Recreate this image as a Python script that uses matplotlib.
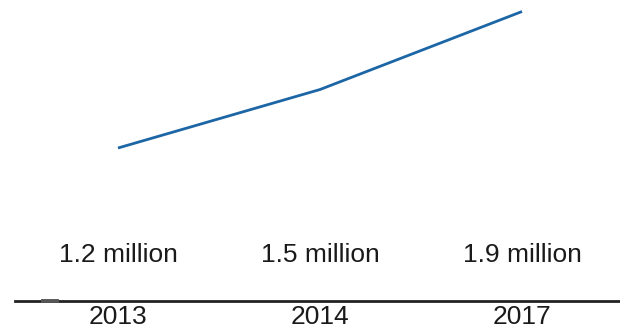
import matplotlib
matplotlib.use("Agg")
import matplotlib.pyplot as plt
import matplotlib.transforms as mtransforms

years = ["2013", "2014", "2017"]
users_million = [1.2, 1.5, 1.9]
labels = ["1.2 million", "1.5 million", "1.9 million"]

plt.rcParams['font.family'] = ['Liberation Sans', 'DejaVu Sans']

fig = plt.figure(figsize=(6.2, 3.29), dpi=100)
ax = fig.add_axes([0, 0, 1, 1])
ax.axis('off')

x = list(range(len(years)))
ax.plot(x, users_million, color='#1d66a6', lw=2.0, solid_capstyle='butt')
ax.set_xlim(-0.584, 2.485)
ax.set_ylim(0.272, 1.959)

trans = mtransforms.blended_transform_factory(ax.transData, ax.transAxes)
for xi, lab, yr in zip(x, labels, years):
    ax.text(xi, 0.226, lab, transform=trans, ha='center', va='center',
            fontsize=19, color='#1a1a1a')
    ax.text(xi, 0.037, yr, transform=trans, ha='center', va='center',
            fontsize=19, color='#1a1a1a')

# baseline and small tick
ax.plot([0.024, 1.0], [0.085, 0.085], transform=ax.transAxes,
        color='#222222', lw=2.0, clip_on=False)
ax.plot([0.069, 0.092], [0.085, 0.085], transform=ax.transAxes,
        color='#555555', lw=2.8, clip_on=False)

fig.savefig("out.png", dpi=100)
